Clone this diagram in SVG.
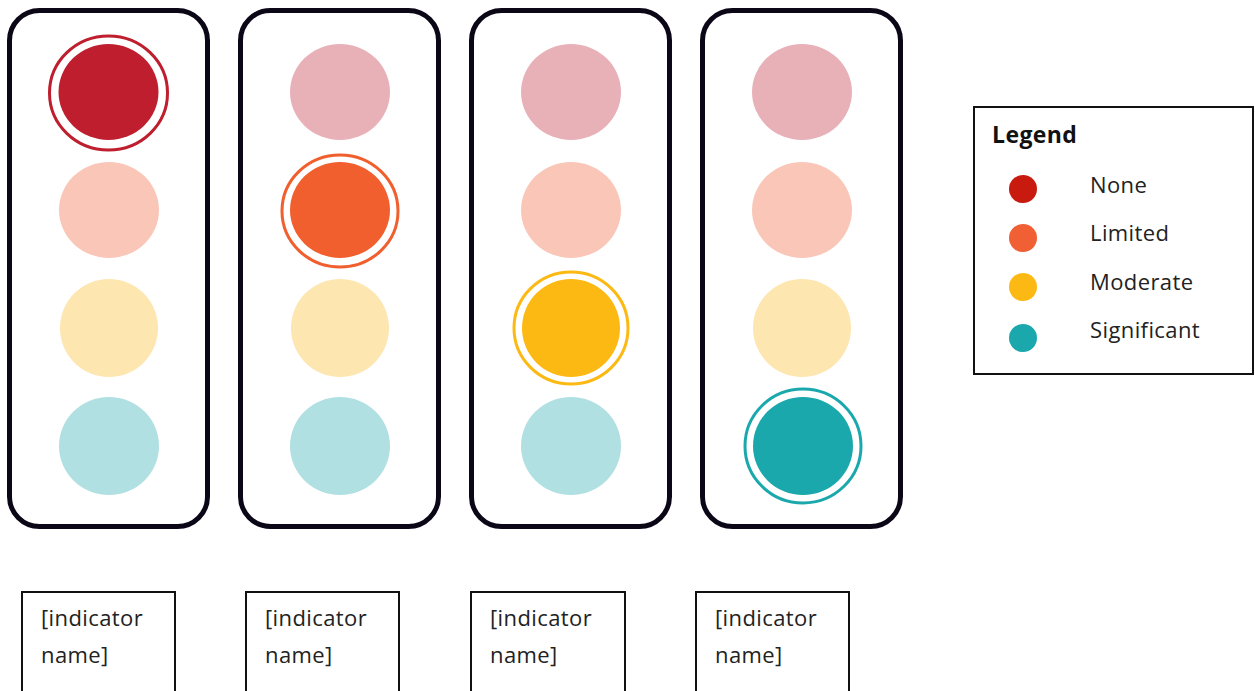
<svg xmlns="http://www.w3.org/2000/svg" width="1255" height="691" viewBox="0 0 1255 691">
<style>
.panel{fill:#fff;stroke:#0b0717;stroke-width:5}
.ring{fill:none;stroke-width:3}
.box{fill:#fff;stroke:#111;stroke-width:2}
.t{font-family:"Open Sans","Liberation Sans",sans-serif;font-size:22px;letter-spacing:0.4px;fill:#222}
.h{font-family:"Open Sans","Liberation Sans",sans-serif;font-size:23px;letter-spacing:0.4px;font-weight:bold;fill:#111}
</style>
<rect width="1255" height="691" fill="#fff"/>
<g id="panel1">
<rect class="panel" x="9.5" y="10.5" width="198" height="516" rx="30"/>
<ellipse cx="108.5" cy="92" rx="50" ry="48" fill="#BE1E2D"/>
<ellipse class="ring" cx="108.5" cy="93" rx="59" ry="57" stroke="#BE1E2D"/>
<ellipse cx="109" cy="210" rx="50" ry="48" fill="#F9C6B8"/>
<ellipse cx="109" cy="328" rx="49" ry="49" fill="#FDE6B0"/>
<ellipse cx="109" cy="446" rx="50" ry="49" fill="#B0E0E2"/>
</g>
<g id="panel2">
<rect class="panel" x="240.5" y="10.5" width="198" height="516" rx="30"/>
<ellipse cx="340" cy="92" rx="50" ry="48" fill="#E8B0B7"/>
<ellipse cx="340" cy="210" rx="50" ry="48" fill="#F15F2E"/>
<ellipse class="ring" cx="340" cy="211" rx="58" ry="56" stroke="#F15F2E"/>
<ellipse cx="340" cy="328" rx="49" ry="49" fill="#FDE6B0"/>
<ellipse cx="340" cy="446" rx="50" ry="49" fill="#B0E0E2"/>
</g>
<g id="panel3">
<rect class="panel" x="471.5" y="10.5" width="198" height="516" rx="30"/>
<ellipse cx="571" cy="92" rx="50" ry="48" fill="#E8B0B7"/>
<ellipse cx="571" cy="210" rx="50" ry="48" fill="#F9C6B8"/>
<ellipse cx="571" cy="328" rx="49" ry="49" fill="#FDB913"/>
<ellipse class="ring" cx="571" cy="328" rx="57" ry="56" stroke="#FDB913"/>
<ellipse cx="571" cy="446" rx="50" ry="49" fill="#B0E0E2"/>
</g>
<g id="panel4">
<rect class="panel" x="702.5" y="10.5" width="198" height="516" rx="30"/>
<ellipse cx="802" cy="92" rx="50" ry="48" fill="#E8B0B7"/>
<ellipse cx="802" cy="210" rx="50" ry="48" fill="#F9C6B8"/>
<ellipse cx="802" cy="328" rx="49" ry="49" fill="#FDE6B0"/>
<ellipse cx="803" cy="446" rx="50" ry="49" fill="#1AA8AD"/>
<ellipse class="ring" cx="803" cy="446" rx="58" ry="57" stroke="#1AA8AD"/>
</g>
<g id="legend">
<rect class="box" x="974" y="107" width="279" height="267"/>
<text class="h" x="992" y="143">Legend</text>
<circle cx="1023" cy="189" r="14" fill="#C81A0E"/>
<circle cx="1023" cy="238" r="14" fill="#F15F35"/>
<circle cx="1023" cy="287" r="14" fill="#FDB913"/>
<circle cx="1023" cy="338" r="14" fill="#1AA8AD"/>
<text class="t" x="1090" y="193">None</text>
<text class="t" x="1090" y="241">Limited</text>
<text class="t" x="1090" y="290">Moderate</text>
<text class="t" x="1090" y="338">Significant</text>
</g>
<g id="label1">
<rect class="box" x="22" y="592" width="153" height="110"/>
<text class="t" x="41" y="626">[indicator</text>
<text class="t" x="41" y="663">name]</text>
</g>
<g id="label2">
<rect class="box" x="246" y="592" width="153" height="110"/>
<text class="t" x="265" y="626">[indicator</text>
<text class="t" x="265" y="663">name]</text>
</g>
<g id="label3">
<rect class="box" x="471" y="592" width="154" height="110"/>
<text class="t" x="490" y="626">[indicator</text>
<text class="t" x="490" y="663">name]</text>
</g>
<g id="label4">
<rect class="box" x="696" y="592" width="153" height="110"/>
<text class="t" x="715" y="626">[indicator</text>
<text class="t" x="715" y="663">name]</text>
</g>
<g id="connectors"></g>
</svg>
